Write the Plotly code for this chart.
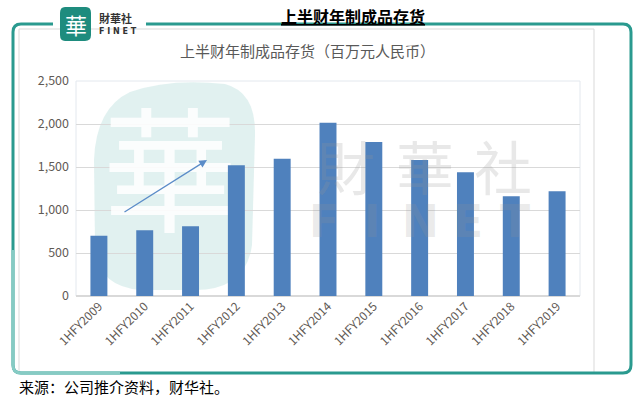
import plotly.graph_objects as go

categories = ["1HFY2009", "1HFY2010", "1HFY2011", "1HFY2012", "1HFY2013", "1HFY2014",
              "1HFY2015", "1HFY2016", "1HFY2017", "1HFY2018", "1HFY2019"]
inventory = [700, 765, 810, 1520, 1595, 2015, 1790, 1580, 1440, 1160, 1218]
y_ticks = [0, 500, 1000, 1500, 2000, 2500]
y_ticklabels = ["0", "500", "1,000", "1,500", "2,000", "2,500"]

main_title = "上半财年制成品存货"
chart_title = "上半财年制成品存货（百万元人民币）"
source_text = "来源：公司推介资料，财华社。"

W, H = 642, 398
L, R, T, B = 76, 580, 81, 296
FONT = "Noto Sans CJK SC, Microsoft YaHei, sans-serif"


def px(x):
    return (x - L) / (R - L)


def py(y):
    return (B - y) / (B - T)


def path(points_cmds):
    out = []
    for cmd in points_cmds:
        c = cmd[0]
        nums = cmd[1:]
        conv = []
        for i in range(0, len(nums), 2):
            conv.append(f"{px(nums[i]):.5f},{py(nums[i+1]):.5f}")
        out.append(c + " " + " ".join(conv))
    return " ".join(out)


fig = go.Figure()
# watermark character on the base (hidden) axes, drawn beneath the bars
fig.add_trace(go.Scatter(
    x=[px(170)], y=[py(188)], mode="text", text=["華"],
    textfont=dict(family=FONT, size=135, color="rgba(255,255,255,0.85)"),
    textposition="middle center", hoverinfo="skip", cliponaxis=False,
    xaxis="x", yaxis="y",
))
fig.add_trace(go.Bar(
    x=categories, y=inventory,
    marker=dict(color="#4f81bd", line=dict(width=0)),
    hoverinfo="skip", xaxis="x2", yaxis="y2",
))

shapes = []
# inner light grey frame
shapes.append(dict(type="rect", xref="paper", yref="paper",
                   x0=px(19), x1=px(594), y0=py(373), y1=py(29),
                   line=dict(color="#d9d9d9", width=1), layer="below"))
# teal outer frame (rounded)
frame = path([
    ("M", 53, 24), ("L", 21, 24), ("Q", 13, 24, 13, 32), ("L", 13, 365),
    ("Q", 13, 373, 21, 373), ("L", 623, 373), ("Q", 631, 373, 631, 365),
    ("L", 631, 32), ("Q", 631, 24, 623, 24), ("L", 146, 24),
])
shapes.append(dict(type="path", xref="paper", yref="paper", path=frame,
                   line=dict(color="#2a9a8f", width=3)))
# lighter lower-left part of the frame
frame2 = path([("M", 13, 250), ("L", 13, 365), ("Q", 13, 373, 21, 373), ("L", 120, 373)])
shapes.append(dict(type="path", xref="paper", yref="paper", path=frame2,
                   line=dict(color="#86cbc4", width=3)))
# plot area border
shapes.append(dict(type="rect", xref="paper", yref="paper", x0=0, x1=1, y0=0, y1=1,
                   line=dict(color="#e3e8ee", width=1), layer="below"))
# watermark blob
blob = path([
    ("M", 130, 92), ("Q", 170, 78, 225, 84), ("Q", 256, 92, 255, 135),
    ("L", 252, 245), ("Q", 246, 290, 195, 290), ("L", 140, 290),
    ("Q", 96, 286, 95, 245), ("L", 94, 160), ("Q", 96, 108, 130, 92), ("Z",),
])
shapes.append(dict(type="path", xref="paper", yref="paper", path=blob,
                   fillcolor="rgba(200,230,228,0.55)", line=dict(width=0), layer="below"))
# logo box
logo = path([
    ("M", 65, 7), ("L", 86, 7), ("Q", 91, 7, 91, 13), ("L", 91, 35), ("Q", 91, 41, 85, 41),
    ("L", 65, 41), ("Q", 60, 41, 60, 35), ("L", 60, 13), ("Q", 60, 7, 65, 7), ("Z",),
])
shapes.append(dict(type="path", xref="paper", yref="paper", path=logo,
                   fillcolor="#1e8c7e", line=dict(width=0)))

annotations = []
# watermark text
for ch, cx in zip(["財", "華", "社"], [346, 425, 503]):
    annotations.append(dict(text=ch, xref="paper", yref="paper", x=px(cx), y=py(165),
                            showarrow=False, xanchor="center", yanchor="middle",
                            font=dict(family=FONT, size=58, color="rgba(150,150,150,0.22)")))
for ch, cx in zip(["F", "I", "N", "E", "T"], [324, 372, 420, 468, 515]):
    annotations.append(dict(text="<b>" + ch + "</b>", xref="paper", yref="paper", x=px(cx), y=py(221),
                            showarrow=False, xanchor="center", yanchor="middle",
                            font=dict(family="DejaVu Sans, sans-serif", size=44,
                                      color="rgba(150,150,150,0.2)")))
# arrow
annotations.append(dict(x=px(207), y=py(160), ax=123 - 207, ay=213 - 160,
                        xref="paper", yref="paper", axref="pixel", ayref="pixel",
                        text="", showarrow=True, arrowhead=2, arrowsize=1.2,
                        arrowwidth=1.3, arrowcolor="#5b8cc8"))
# logo text
annotations.append(dict(text="華", xref="paper", yref="paper", x=px(75.5), y=py(24),
                        showarrow=False, xanchor="center", yanchor="middle",
                        font=dict(family=FONT, size=22, color="white")))
annotations.append(dict(text="<b>財華社</b>", xref="paper", yref="paper", x=px(97), y=py(18),
                        showarrow=False, xanchor="left", yanchor="middle",
                        font=dict(family=FONT, size=11, color="#333333")))
annotations.append(dict(text="<b>F I N E T</b>", xref="paper", yref="paper", x=px(97), y=py(31),
                        showarrow=False, xanchor="left", yanchor="middle",
                        font=dict(family="DejaVu Sans, sans-serif", size=8, color="#333333")))
# main title
annotations.append(dict(text="<b>" + main_title + "</b>", xref="paper", yref="paper",
                        x=px(353), y=py(16), showarrow=False, xanchor="center", yanchor="middle",
                        font=dict(family=FONT, size=16, color="black", lineposition="under")))
# chart title
annotations.append(dict(text=chart_title, xref="paper", yref="paper",
                        x=px(307), y=py(50), showarrow=False, xanchor="center", yanchor="middle",
                        font=dict(family=FONT, size=15, color="#595959")))
# source
annotations.append(dict(text=source_text, xref="paper", yref="paper",
                        x=px(17), y=py(386), showarrow=False, xanchor="left", yanchor="middle",
                        font=dict(family=FONT, size=15, color="black")))

fig.update_layout(
    width=W, height=H,
    margin=dict(l=L, r=W - R, t=T, b=H - B, autoexpand=False),
    paper_bgcolor="white", plot_bgcolor="rgba(0,0,0,0)",
    showlegend=False, bargap=0.63,
    shapes=shapes, annotations=annotations,
    xaxis=dict(range=[0, 1], visible=False, fixedrange=True),
    yaxis=dict(range=[0, 1], visible=False, fixedrange=True),
    xaxis2=dict(overlaying="x", anchor="y2", side="bottom",
                tickangle=-45, tickfont=dict(family=FONT, size=12, color="#5f5a55"),
                showgrid=False, showline=False, zeroline=False, ticks="", automargin=False,
                fixedrange=True),
    yaxis2=dict(overlaying="y", anchor="x2", side="left",
                range=[0, 2500], tickvals=y_ticks, ticktext=y_ticklabels,
                tickfont=dict(family=FONT, size=12.5, color="#5f5a55"),
                showgrid=True, gridcolor="#d9d9d9", gridwidth=1, zeroline=True,
                zerolinecolor="#d9d9d9", showline=False, ticks="", ticklabelstandoff=6,
                automargin=False, fixedrange=True),
)

fig.write_html("out.html", config={"displayModeBar": False},
               post_script="document.body.style.margin='0';document.body.style.overflow='hidden';")
